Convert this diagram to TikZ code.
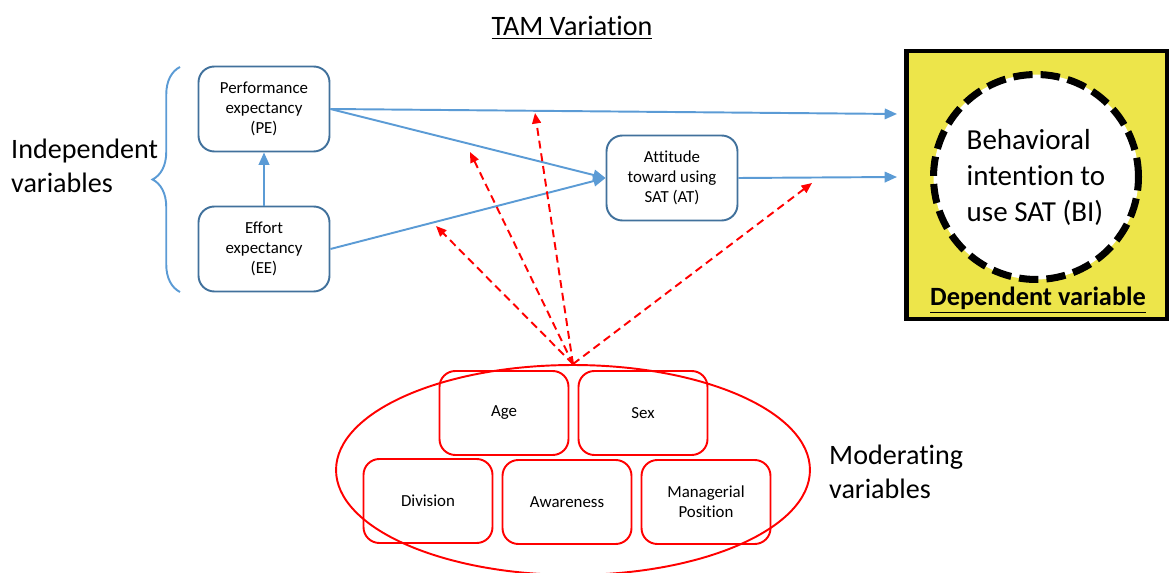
\documentclass[tikz,border=0pt]{standalone}
\usepackage{fontspec}
\setmainfont{Carlito}[Ligatures=NoCommon]
\usetikzlibrary{arrows.meta,decorations.pathreplacing,shapes.geometric}
\definecolor{tamblue}{HTML}{5B9BD5}
\definecolor{boxedge}{HTML}{41719C}
\definecolor{depyellow}{HTML}{EDE54A}

\begin{document}
\begin{tikzpicture}
[x=0.02cm,y=-0.02cm,
  varbox/.style={draw=boxedge,line width=1.1pt,rounded corners=9pt,
    minimum width=2.62cm,minimum height=1.7cm,align=center,
    font=\fontsize{9.6}{11.5}\selectfont},
  modbox/.style={draw=red,line width=1.1pt,rounded corners=9pt,
    minimum width=2.58cm,minimum height=1.68cm,align=center,
    font=\fontsize{9.6}{11.5}\selectfont},
  bigtext/.style={font=\fontsize{16}{19}\selectfont,align=left},
  bluearrow/.style={-{Triangle[length=7pt,width=6pt]},draw=tamblue,line width=1.1pt},
  redarrow/.style={-{Triangle[length=6pt,width=5pt]},draw=red,line width=1.1pt,
    dash pattern=on 4.5pt off 2.8pt}]
\useasboundingbox (0,0) rectangle (1169,573);
%% title and side labels
\node (title) at (572,28) [font=\fontsize{16}{19}\selectfont] {\underline{TAM Variation}};
\node (indep) at (5,166) [anchor=west,bigtext] {Independent\\variables};
\node (moder) at (823,472) [anchor=west,bigtext] {Moderating\\variables};
%% independent variables
\node (pe) at (264,109) [varbox] {Performance\\expectancy\\(PE)};
\node (ee) at (264,249) [varbox] {Effort\\expectancy\\(EE)};
\node (at) at (672,178) [varbox] {Attitude\\toward using\\SAT (AT)};
\coordinate (bracebot) at (180,292);
\coordinate (bracetop) at (180,67);
\draw [tamblue,line width=1.1pt,decorate,decoration={brace,amplitude=0.55cm,aspect=0.5}]
  (bracebot) -- (bracetop);
%% dependent variable
\node (depbox) at (1037,185) [draw=black,line width=2.4pt,fill=depyellow,
  minimum width=5.22cm,minimum height=5.36cm] {};
\node (bi) at (1036,177) [circle,draw=black,fill=white,line width=4pt,
  dash pattern=on 11pt off 4.6pt,minimum size=4.1cm,bigtext,
  font=\fontsize{16.5}{20.5}\selectfont] {Behavioral\\intention to\\use SAT (BI)};
\node (deplabel) at (1038,300) [font=\fontsize{15}{18}\selectfont\bfseries]
  {\underline{Dependent variable}};
%% moderating variables
\node (modgroup) at (573,470) [ellipse,draw=red,line width=1.1pt,
  minimum width=9.48cm,minimum height=4.2cm] {};
\foreach \nodename/\x/\y/\txt in {age/504/413/Age, sex/643/413/Sex,
  division/428/501/Division, awareness/567/502/Awareness,
  managerial/706/502/{Managerial\\Position}} {
  \node (\nodename) at (\x,\y) [modbox] {\txt};
}
%% edges
\coordinate (bitop) at (897,114);
\coordinate (bilow) at (897,177);
\path
(pe.east) edge[bluearrow] (bitop)
(pe.east) edge[bluearrow] (at.west)
(ee.east) edge[bluearrow] (at.west)
(ee.north) edge[bluearrow] (pe.south)
(at.east) edge[bluearrow] (bilow);
%% moderating effects
\foreach \targetname/\x/\y in {m1/535/113, m2/470/152, m3/436/226, m4/812/183} {
  \coordinate (\targetname) at (\x,\y);
  \draw [redarrow] (modgroup.north) -- (\targetname);
}
\end{tikzpicture}
\end{document}
